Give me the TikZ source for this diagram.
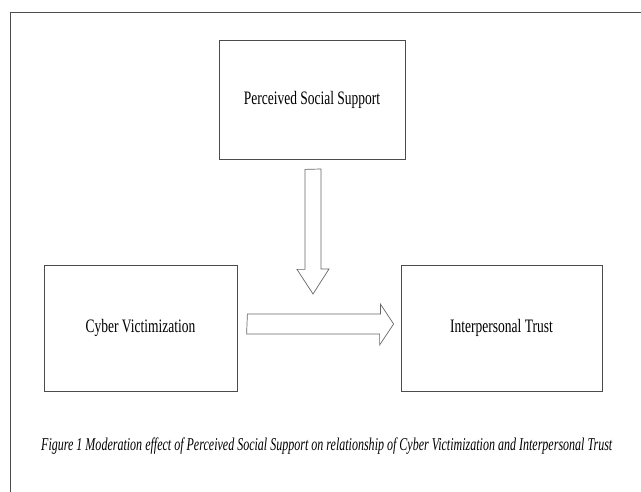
\documentclass[tikz,border=0pt]{standalone}
\usepackage{fontspec}
\setmainfont{Liberation Serif}
\usepackage{graphicx}
\newcommand{\sqz}[1]{\scalebox{0.71}[1]{#1}}
\begin{document}
\begin{tikzpicture}[x=1pt,y=-1pt,every node/.style={font=\fontsize{19}{22}\selectfont},
  varbox/.style={draw=black!70,line width=0.8pt,inner sep=0pt,align=center},
  blockarrow/.style={draw=black!60,line width=0.7pt,fill=white,line join=miter}]
  \useasboundingbox (0,0) rectangle (641,492);
  \draw[black!70,line width=0.8pt] (641,12) -- (10,12) -- (10,492);
  \node[varbox,minimum width=186pt,minimum height=119pt] (pss) at (312,99.5) {\sqz{Perceived Social Support}};
  \node[varbox,minimum width=193pt,minimum height=126pt] (cv) at (140.5,328) {\sqz{Cyber Victimization}};
  \node[varbox,minimum width=201pt,minimum height=126pt] (it) at (501.5,328) {\sqz{Interpersonal Trust}};
  % moderator arrow
  \coordinate (modtop) at ([xshift=-7pt,yshift=-10pt]pss.south);
  \coordinate (modtip) at (313,294);
  \draw[blockarrow] (modtop) -- ++(0,100) -- ++(-8,0) -- (modtip)
    -- ++(16,-25) -- ++(-8,0) -- ++(0,-100) -- cycle;
  % main path arrow
  \coordinate (pathstart) at ([xshift=10pt,yshift=14pt]cv.east);
  \coordinate (pathtip) at ([xshift=-7pt,yshift=4pt]it.west);
  \draw[blockarrow] (pathstart) -- ++(133,0) -- ++(0,-10) -- (pathtip)
    -- ++(-14,21) -- ++(0,-11) -- ++(-133,0) -- cycle;
  \node[anchor=west,inner sep=0pt,font=\fontsize{18}{20}\selectfont] (cap) at (41,446)
    {\resizebox{571pt}{\height}{\itshape Figure 1 Moderation effect of Perceived Social Support on relationship of Cyber Victimization and Interpersonal Trust}};
\end{tikzpicture}
\end{document}
